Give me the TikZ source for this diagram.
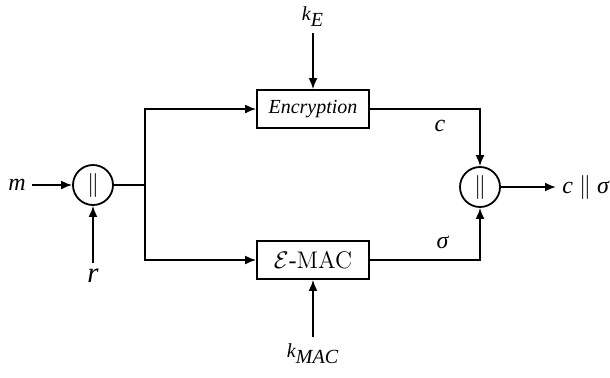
\documentclass[tikz,border=0pt]{standalone}
\usepackage{fontspec}
\setmainfont{Liberation Serif}
\usetikzlibrary{arrows.meta}

\begin{document}
\begin{tikzpicture}[x=0.5pt,y=-0.5pt,
    arr/.style={line width=0.9pt,-{Latex[length=5.5pt,width=4.5pt]}},
    box/.style={draw,line width=0.9pt,minimum width=56pt,minimum height=19pt,inner sep=0pt},
    cat/.style={draw,line width=0.9pt,circle,minimum size=20pt,inner sep=0pt},
    lbl/.style={inner sep=3pt,font=\large}]

    % 余白の固定
    \useasboundingbox (0,0) rectangle (610,377);

    % 点の定義
    \coordinate (J) at (145,185);

    % ブロックの描画
    \node[cat] (L) at (93,185) {\large$\|$};
    \node[cat] (R) at (480,187) {\large$\|$};
    \node[box] (enc) at (313,109) {\textit{Encryption}};
    \node[box] (mac) at (313,260) {\large$\mathcal{E}$-{\fontfamily{lmr}\selectfont MAC}};

    % ラベルの描画
    \node[lbl,anchor=east] (m) at (32,185) {\textit{m}};
    \node[lbl,anchor=north,font=\Large] (r) at (93,263) {\textit{r}};
    \node[lbl,anchor=south,font=\normalsize] (kE) at (313,33) {\textit{k}$_{\textit{E}}$};
    \node[lbl,anchor=north,font=\normalsize] (kMAC) at (313,337) {\textit{k}$_{\textit{MAC}}$};
    \node[lbl] (c) at (440,126) {\textit{c}};
    \node[lbl] (s) at (443,242) {\textit{σ}};
    \node[lbl,anchor=west] (out) at (556,187) {\textit{c} $\|$ \textit{σ}};

    % 線分の描画
    \draw[arr] (m) -- (L);
    \draw[arr] (r) -- (L);
    \draw[line width=0.9pt] (L) -- (J);
    \draw[arr] (J) |- (enc);
    \draw[arr] (J) |- (mac);
    \draw[arr] (kE) -- (enc);
    \draw[arr] (kMAC) -- (mac);
    \draw[arr] (enc) -| (R);
    \draw[arr] (mac) -| (R);
    \draw[arr] (R) -- (out);

\end{tikzpicture}
\end{document}
